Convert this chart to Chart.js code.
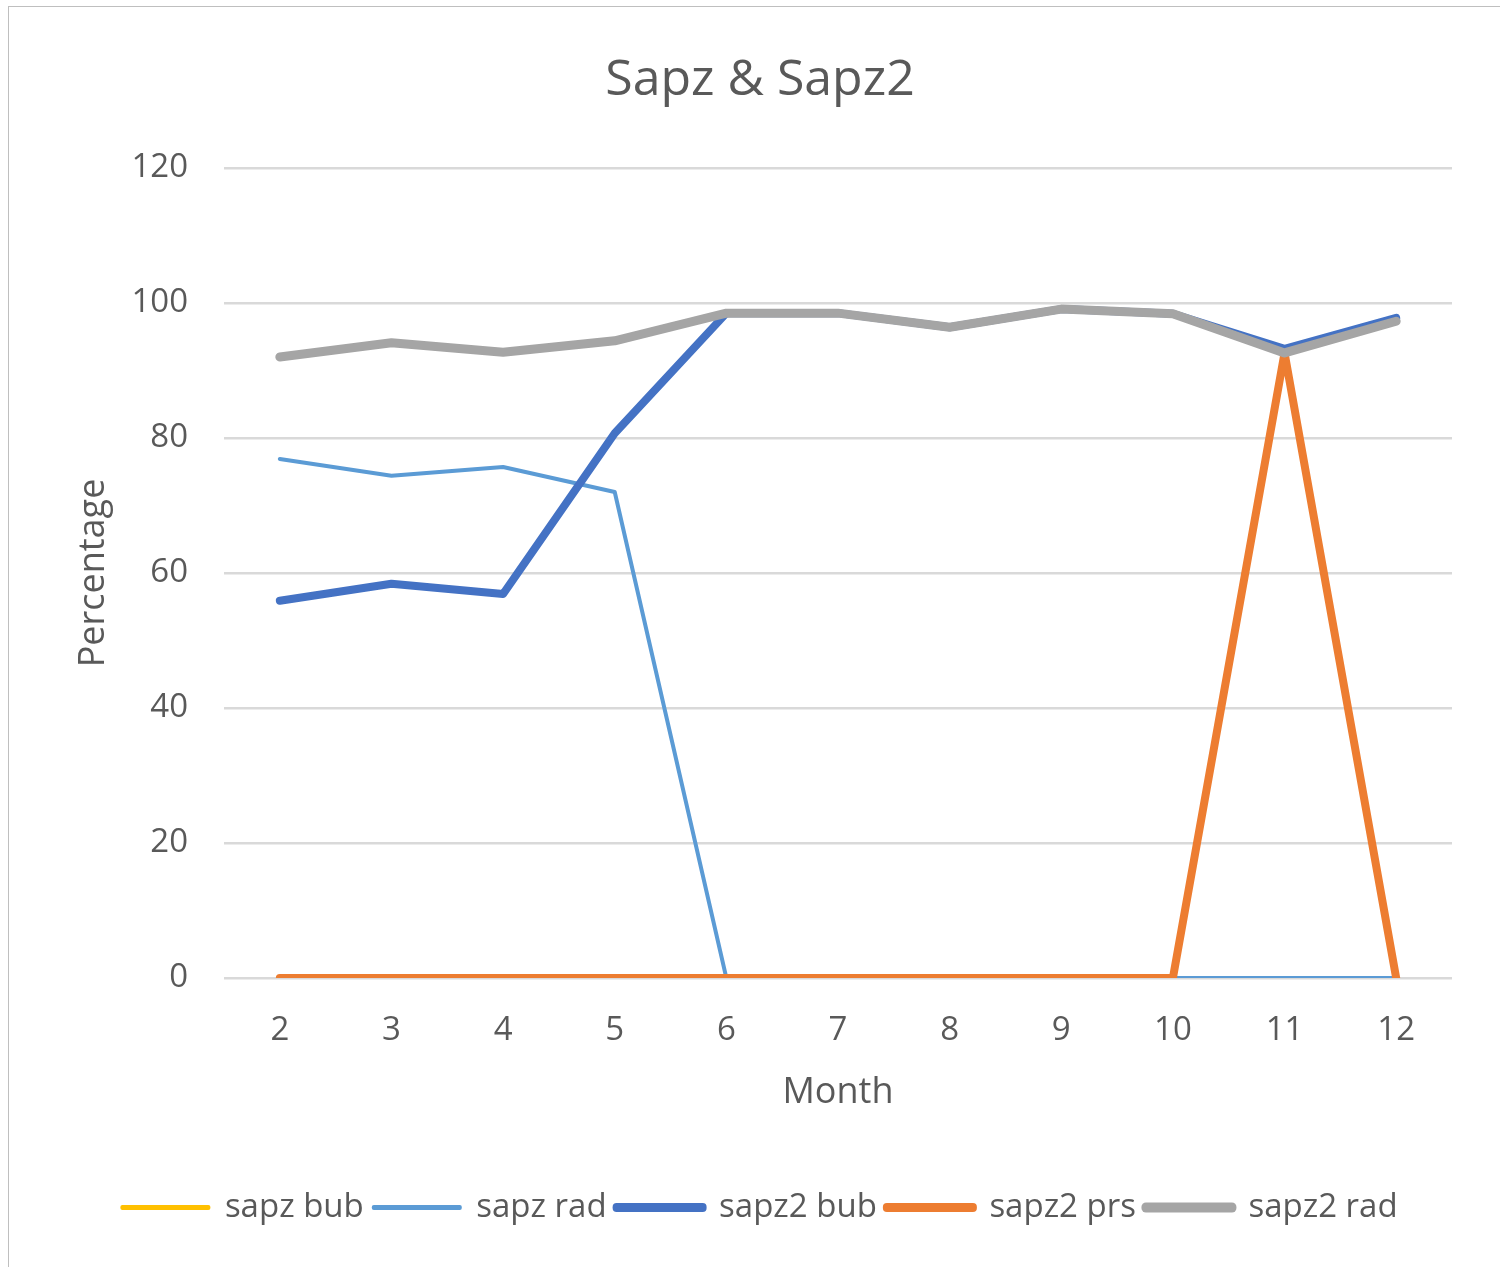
<!DOCTYPE html>
<html lang="en">
<head>
    <meta charset="utf-8" />
    <title>Sapz & Sapz2</title>
    <style>
        body {
            margin: 0;
            background-color: #fff;
        }
        #wrap {
            position: relative;
            width: 1500px;
            height: 1267px;
        }
        #frame {
            position: absolute;
            left: 8px;
            top: 6px;
            width: 1500px;
            height: 1300px;
            border: 1.5px solid #bfbfbf;
            pointer-events: none;
        }
    </style>
</head>
<body>
    <div id="wrap">
        <canvas id="sapzChart" width="1500" height="1267"></canvas>
        <div id="frame"></div>
    </div>
    <script src="https://cdn.jsdelivr.net/npm/chart.js"></script>
    <script>
        // values
        var months = ['2', '3', '4', '5', '6', '7', '8', '9', '10', '11', '12'];
        var sapzBub = [0, 0, 0, 0, 0, 0, 0, 0, 0, 0, 0];
        var sapzRad = [76.9, 74.4, 75.7, 72.0, 0, 0, 0, 0, 0, 0, 0];
        var sapz2Bub = [55.9, 58.4, 56.9, 80.7, 98.5, 98.5, 96.4, 99.1, 98.4, 93.2, 97.8];
        var sapz2Prs = [0, 0, 0, 0, 0, 0, 0, 0, 0, 92.6, 0];
        var sapz2Rad = [92.0, 94.1, 92.7, 94.4, 98.5, 98.5, 96.4, 99.1, 98.4, 92.6, 97.3];

        var textColor = '#595959';
        var fontName = "'Open Sans', sans-serif";

        function lineSet(label, data, color, width, order) {
            return {
                label: label,
                data: data,
                borderColor: color,
                backgroundColor: color,
                borderWidth: width,
                pointRadius: 0,
                pointHoverRadius: 0,
                tension: 0,
                borderCapStyle: 'round',
                borderJoinStyle: 'round',
                order: order
            };
        }

        var ctx = document.getElementById('sapzChart').getContext('2d');
        var sapzChart = new Chart(ctx, {
            type: 'line',
            data: {
                labels: months,
                datasets: [
                    lineSet('sapz bub', sapzBub, '#FFC000', 4, 5),
                    lineSet('sapz rad', sapzRad, '#5B9BD5', 4, 4),
                    lineSet('sapz2 bub', sapz2Bub, '#4472C4', 8, 3),
                    lineSet('sapz2 prs', sapz2Prs, '#ED7D31', 8, 2),
                    lineSet('sapz2 rad', sapz2Rad, '#A5A5A5', 9, 1)
                ]
            },
            options: {
                responsive: false,
                animation: false,
                layout: {
                    padding: { left: 68, right: 48, top: 11, bottom: 33 }
                },
                plugins: {
                    title: {
                        display: true,
                        text: 'Sapz & Sapz2',
                        color: textColor,
                        font: { family: fontName, size: 50, weight: 'normal' },
                        padding: { top: 40, bottom: 57 }
                    },
                    legend: {
                        position: 'bottom',
                        labels: {
                            color: textColor,
                            font: { family: fontName, size: 33 },
                            boxWidth: 86,
                            boxHeight: 1,
                            padding: 10,
                            // keep the dataset order, not the drawing order
                            sort: function (a, b) {
                                return a.datasetIndex - b.datasetIndex;
                            }
                        }
                    },
                    tooltip: { enabled: false }
                },
                scales: {
                    x: {
                        offset: true,
                        grid: { display: false, drawTicks: false },
                        border: { display: false },
                        ticks: {
                            color: textColor,
                            font: { family: fontName, size: 33 },
                            padding: 33,
                            maxRotation: 0
                        },
                        title: {
                            display: true,
                            text: 'Month',
                            color: textColor,
                            font: { family: fontName, size: 36 },
                            padding: { top: 0, bottom: 67 }
                        },
                        afterFit: function (scale) {
                            scale.height = 203;
                        }
                    },
                    y: {
                        min: 0,
                        max: 120,
                        grid: { color: '#D9D9D9', lineWidth: 2.5, drawTicks: false },
                        border: { display: false },
                        ticks: {
                            stepSize: 20,
                            color: textColor,
                            font: { family: fontName, size: 33 },
                            padding: 36
                        },
                        title: {
                            display: true,
                            text: 'Percentage',
                            color: textColor,
                            font: { family: fontName, size: 36 },
                            padding: { top: 4, bottom: 0 }
                        },
                        afterFit: function (scale) {
                            scale.width = 156;
                        }
                    }
                }
            }
        });
    </script>
</body>
</html>
